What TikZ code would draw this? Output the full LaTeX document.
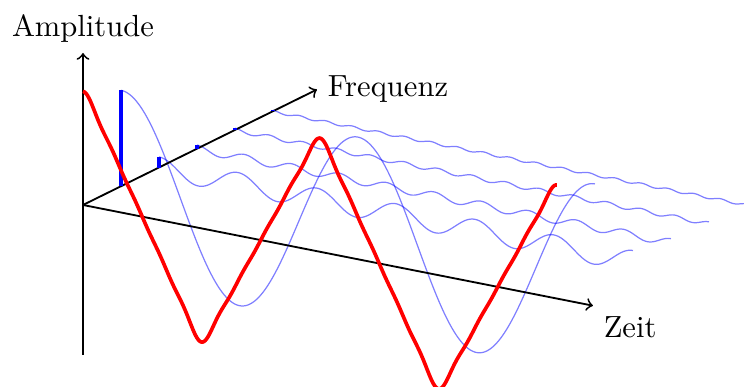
\documentclass[tikz,border=0pt]{standalone}
\begin{document}
\begin{tikzpicture}[x={(0.327pt,0)},y={(0,-0.327pt)},
  axis/.style={semithick,->},
  wave/.style={blue,opacity=0.5,line width=0.4pt},
  bar/.style={blue,line width=1.4pt},
  sum/.style={red,line width=1.2pt}]
\useasboundingbox (0,0) rectangle (744,387);
% blue harmonics
\foreach \j in {1,...,5}{
  \pgfmathtruncatemacro{\k}{2*\j-1}
  \draw[wave] plot[domain=0:720,samples=300,smooth]
    ({83+\j*38+\x*0.6583},{205-\j*18.7+\x*0.13003-96*cos(\k*\x)/(\k*\k)});
}
% axes
\coordinate (O) at (83,205);
\coordinate (abot) at (83,355);
\node[inner sep=0pt] (atip) at (83,53) {};
\node[inner sep=0pt] (ttip) at (593,305.7) {};
\node[inner sep=0pt] (ftip) at (317,89.5) {};
\draw[axis] (abot) -- (atip.center);
\draw[axis] (O) -- (ttip.center);
\draw[axis] (O) -- (ftip.center);
\node[above] (alab) at (atip.center) {Amplitude};
\node[below right] (tlab) at (ttip.center) {Zeit};
\node[right] (flab) at (ftip.center) {Frequenz};
% bars
\foreach \j in {1,...,5}{
  \pgfmathtruncatemacro{\k}{2*\j-1}
  \coordinate (b\j) at ({83+\j*38},{205-\j*18.7});
  \coordinate (bt\j) at ({83+\j*38},{205-\j*18.7-96/(\k*\k)});
  \draw[bar] (b\j) -- (bt\j);
}
% red sum
\draw[sum] plot[domain=0:720,samples=400,smooth]
  ({83+\x*0.6583},{205+\x*0.13003-96*(cos(\x)+cos(3*\x)/9+cos(5*\x)/25+cos(7*\x)/49+cos(9*\x)/81)});
\end{tikzpicture}
\end{document}
